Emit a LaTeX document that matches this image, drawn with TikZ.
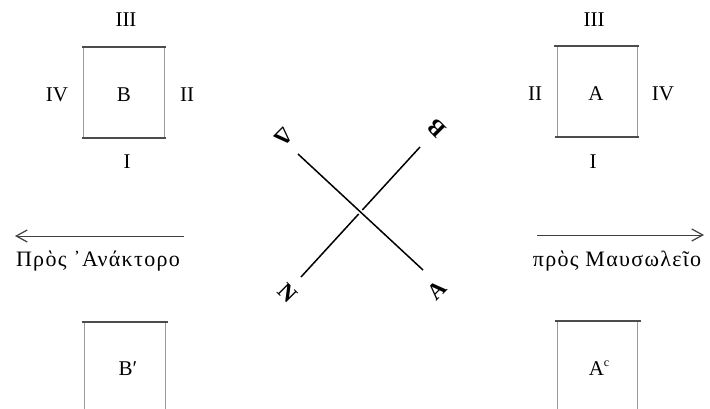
\documentclass[tikz,border=0pt]{standalone}
\usepackage{fontspec}
\setmainfont{Liberation Serif}
\newfontfamily\gkfont[LetterSpace=6]{Liberation Serif}
\usetikzlibrary{arrows.meta}
\begin{document}
\begin{tikzpicture}[x=1pt,y=-1pt,
  lbl/.style={font=\fontsize{21}{25}\selectfont, inner sep=0pt, anchor=base},
  gklbl/.style={font=\gkfont\fontsize{22}{26}\selectfont, inner sep=0pt, anchor=base},
  dirlbl/.style={font=\fontsize{23}{27}\selectfont\bfseries, inner sep=0pt},
  edgeh/.style={line width=1.1pt, black!70},
  edgev/.style={line width=0.7pt, black!40},
  axisline/.style={line width=1.5pt, black},
  arr/.style={line width=1pt, black!75, -{Straight Barb[length=11pt,width=12pt,line width=1.2pt]}}
]
\useasboundingbox (0,0) rectangle (710,409);

% ---- box B (top left)
\draw[edgev] (83,47) -- (83,138) (164,47) -- (164,138);
\draw[edgeh] (82,47) -- (166,47) (82,138) -- (166,138);
\node[lbl] (b3) at (126,27) {III};
\node[lbl] (b4) at (57,102) {IV};
\node[lbl] (bB) at (124,102) {B};
\node[lbl] (b2) at (187,102) {II};
\node[lbl] (b1) at (127,169) {I};

% ---- box A (top right)
\draw[edgev] (557,46) -- (557,137) (637,46) -- (637,137);
\draw[edgeh] (554,46) -- (639,46) (555,137) -- (639,137);
\node[lbl] (a3) at (594,27) {III};
\node[lbl] (a2) at (535,101) {II};
\node[lbl] (aA) at (596,101) {A};
\node[lbl] (a4) at (663,101) {IV};
\node[lbl] (a1) at (593,168) {I};

% ---- bottom boxes
\draw[edgev] (84,322) -- (84,409) (165,322) -- (165,409);
\draw[edgeh] (82,322) -- (168,322);
\node[lbl] (bp) at (128,375) {B′};
\draw[edgev] (557,321) -- (557,409) (637,321) -- (637,409);
\draw[edgeh] (555,321) -- (641,321);
\node[lbl] (ap) at (599,375) {A\raisebox{0.42em}{\fontsize{12}{12}\selectfont c}};

% ---- cross
\coordinate (d1) at (298,154);
\coordinate (d2) at (423,270);
\coordinate (n1) at (301,277);
\coordinate (n2) at (420,147);
\draw[axisline] (n1) -- (n2);
\draw[axisline, preaction={draw=white, line width=5pt, shorten <=50pt, shorten >=50pt}] (d1) -- (d2);
\node[dirlbl, rotate=-135] (lD) at (284,137) {Δ};
\node[dirlbl, rotate=135] (lB) at (437,128) {Β};
\node[dirlbl, rotate=-45] (lN) at (288,293) {Ν};
\node[dirlbl, rotate=45] (lA) at (437,290) {Α};

% ---- arrows
\coordinate (la0) at (184,236);
\coordinate (la1) at (15,236);
\coordinate (ra0) at (537,235);
\coordinate (ra1) at (704,235);
\draw[arr] (la0) -- (la1);
\draw[arr] (ra0) -- (ra1);
\node[gklbl] (tl) at (98,266) {Πρὸς ᾿Ανάκτορο};
\node[gklbl] (tr) at (617,266) {πρὸς Μαυσωλεῖο};
\end{tikzpicture}
\end{document}
